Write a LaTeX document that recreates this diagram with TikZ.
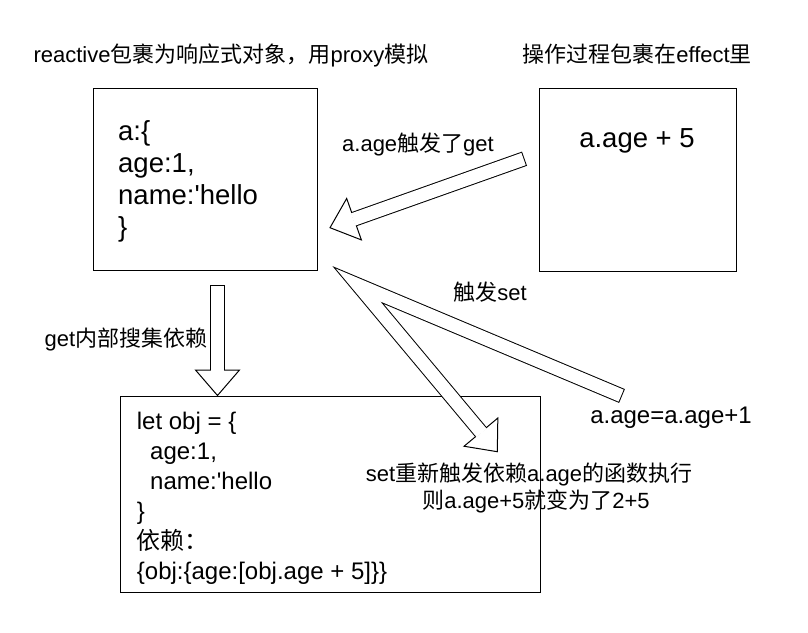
\documentclass[tikz,border=0pt]{standalone}
\usepackage{fontspec}
\setmainfont{Liberation Sans}
\newfontfamily\cjk{Noto Sans CJK SC}
\usetikzlibrary{calc}
\newcommand*{\zh}[1]{{\cjk #1}}
\newcommand*{\sq}{\textquotesingle}
\newcommand*{\HeadLen}{25.5pt}
\newcommand*{\HeadHalf}{22pt}
\newcommand*{\HollowArrow}[3]{% #1 = path up to last point, #2 = last point, #3 = tip
  \coordinate (head base) at ($(#3)!\HeadLen!(#2)$);
  \draw[shaft] #1 -- (head base);
  \draw[head] ($(head base)!\HeadHalf!90:(#3)$) -- (#3)
    -- ($(head base)!\HeadHalf!-90:(#3)$) -- cycle;
  \draw[shaft inside] #1 -- (head base);
}
\tikzset{
  box/.style={draw, line width=1.2pt, inner sep=0pt, anchor=north west},
  note/.style={font=\fontsize{22}{26}\selectfont, inner sep=0pt, anchor=base},
  big code/.style={font=\fontsize{27.5}{33}\selectfont, inner sep=0pt, anchor=base west},
  code/.style={font=\fontsize{24}{29}\selectfont, inner sep=0pt, anchor=base west},
  shaft/.style={line width=15pt, line join=miter, draw=black},
  shaft inside/.style={line width=13pt, line join=miter, draw=white,
    shorten <=1pt, shorten >=-1pt},
  head/.style={line width=1pt, line join=miter, draw=black, fill=white},
}

\begin{document}
\begin{tikzpicture}[x=1pt,y=-1pt]
    \path[use as bounding box, fill=white] (0,0) rectangle (808,632);

    % titles
    \node[note] (title left) at (231,62) {reactive\zh{包裹为响应式对象，用}proxy\zh{模拟}};
    \node[note] (title right) at (637,62) {\zh{操作过程包裹在}effect\zh{里}};

    % boxes
    \node[box, minimum width=224pt, minimum height=182pt] (proxy box) at (93,88) {};
    \node[box, minimum width=197pt, minimum height=183pt] (effect box) at (539,88) {};
    \node[box, minimum width=420pt, minimum height=196pt] (dep box) at (120,396) {};

    \foreach \y/\line [count=\i] in {140/{a:\{}, 172/{age:1,}, 204/{name:\sq hello}, 236/\}}
      \node[big code] (proxy line \i) at (118,\y) {\line};
    \node[big code, anchor=base] (effect line) at (637,147) {a.age + 5};

    \foreach \x/\y/\line [count=\i] in {
        136.7/429.5/{let obj = \{},
        150/459.4/{age:1,},
        150/489.3/{name:\sq hello},
        136.7/519.2/\},
        136.7/549.1/{\zh{依赖：}},
        136.7/579/{\{obj:\{age:[obj.age + 5]\}\}}}
      \node[code] (dep line \i) at (\x,\y) {\line};

    % hollow arrows
    \coordinate (get tail) at (524.5,158.7);
    \coordinate (get tip) at (330,227.7);
    \coordinate (collect tail) at (217.5,285);
    \coordinate (collect tip) at (217.5,395.5);
    \coordinate (set tail) at (622,396);
    \coordinate (set bend) at (358,285);
    \coordinate (set tip) at (497.3,451.7);

    \HollowArrow{(get tail)}{get tail}{get tip}
    \HollowArrow{(collect tail)}{collect tail}{collect tip}
    \HollowArrow{(set tail) -- (set bend)}{set bend}{set tip}

    % arrow labels
    \node[note] (get label) at (418,151) {a.age\zh{触发了}get};
    \node[note] (collect label) at (126,346.7) {get\zh{内部搜集依赖}};
    \node[note] (set label) at (490,300) {\zh{触发}set};
    \node[code, anchor=base] (assign label) at (671,423) {a.age=a.age+1};
    \node[note] (rerun label) at (529,481) {set\zh{重新触发依赖}a.age\zh{的函数执行}};
    \node[note] (result label) at (536,508) {\zh{则}a.age+5\zh{就变为了}2+5};
\end{tikzpicture}
\end{document}
